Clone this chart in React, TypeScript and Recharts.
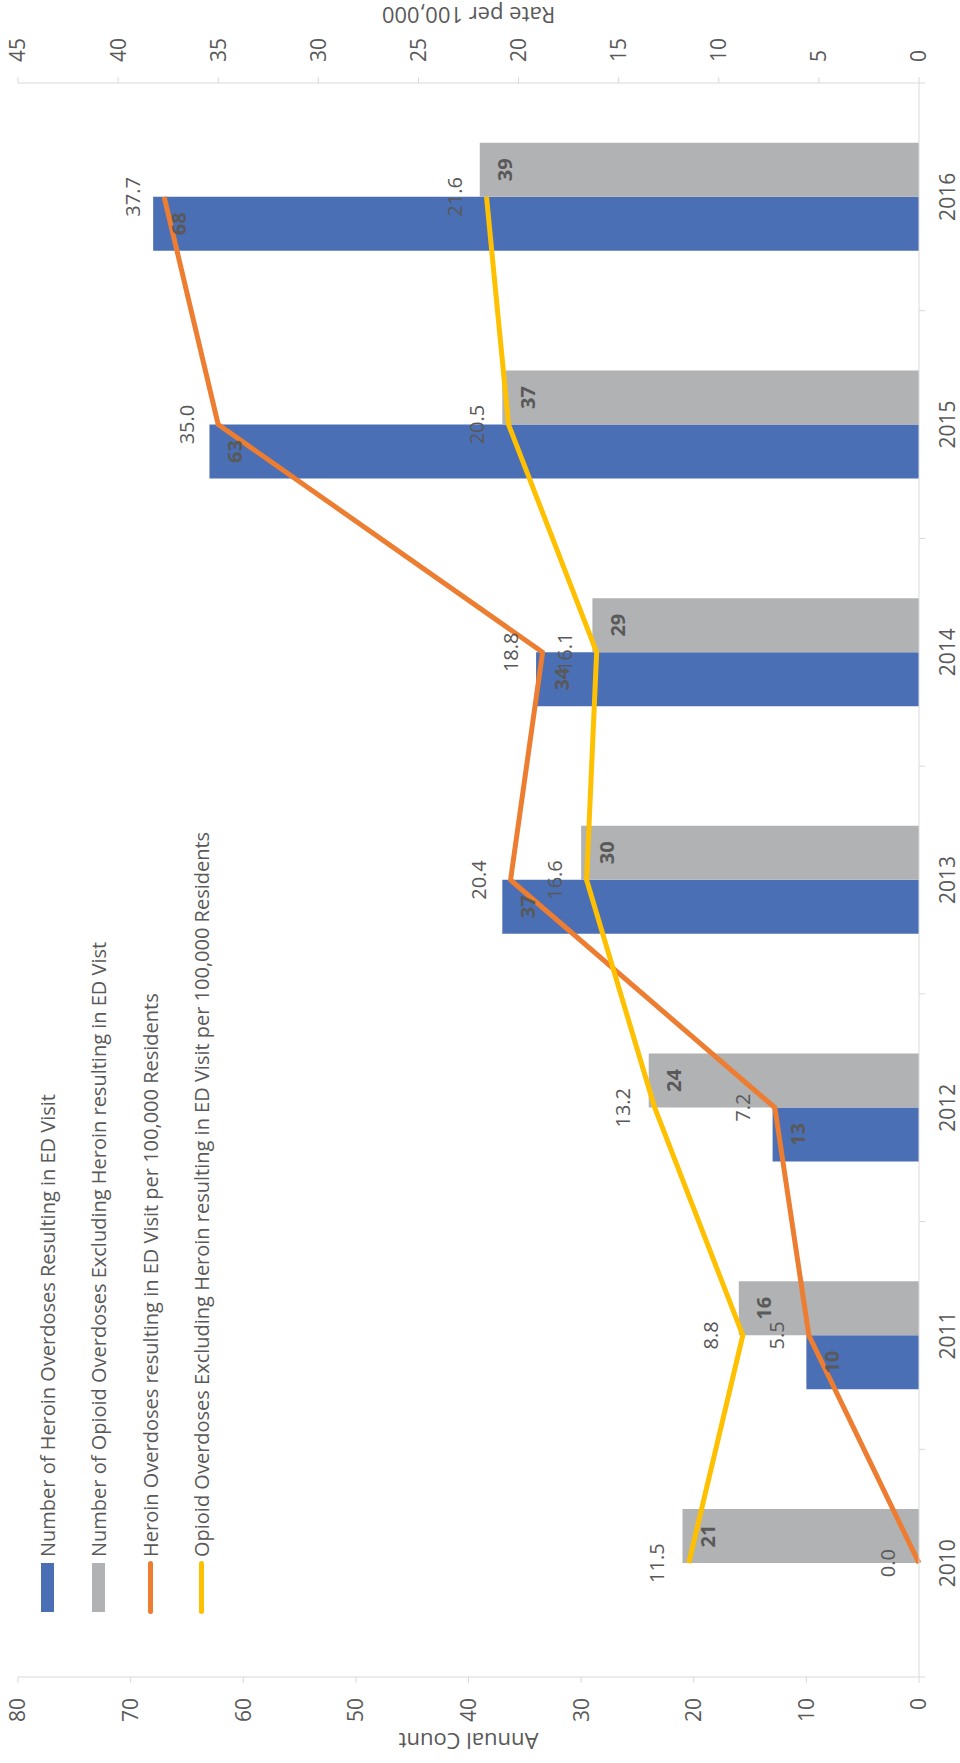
import React from 'react';
import { ComposedChart, Bar, Line, XAxis, YAxis, LabelList, Label } from 'recharts';

const YEARS = ['2010', '2011', '2012', '2013', '2014', '2015', '2016'];
const HEROIN_COUNT = [null, 10, 13, 37, 34, 63, 68];
const OPIOID_COUNT = [21, 16, 24, 30, 29, 37, 39];
const HEROIN_RATE = [0.0, 5.5, 7.2, 20.4, 18.8, 35.0, 37.7];
const OPIOID_RATE = [11.5, 8.8, 13.2, 16.6, 16.1, 20.5, 21.6];
const COUNT_TICKS = [0, 10, 20, 30, 40, 50, 60, 70, 80];
const RATE_TICKS = [0, 5, 10, 15, 20, 25, 30, 35, 40, 45];

const SERIES = [
  { key: 'heroinCount', name: 'Number of Heroin Overdoses Resulting in ED Visit', color: '#4a6fb5', kind: 'bar' },
  { key: 'opioidCount', name: 'Number of Opioid Overdoses Excluding Heroin resulting in ED Vist', color: '#b1b2b4', kind: 'bar' },
  { key: 'heroinRate', name: 'Heroin Overdoses resulting in ED Visit per 100,000 Residents', color: '#ed7d31', kind: 'line' },
  { key: 'opioidRate', name: 'Opioid Overdoses Excluding Heroin resulting in ED Visit per 100,000 Residents', color: '#ffc000', kind: 'line' },
];

const data = YEARS.map((year, i) => ({
  year,
  heroinCount: HEROIN_COUNT[i],
  opioidCount: OPIOID_COUNT[i],
  heroinRate: HEROIN_RATE[i],
  opioidRate: OPIOID_RATE[i],
}));

// chart is drawn landscape then turned a quarter turn counter-clockwise
const W = 1763;
const H = 960;
const PLOT_LEFT = 86;
const PLOT_RIGHT = 1680;
const PLOT_TOP = 18;
const PLOT_BOTTOM = 919;
const FONT = '"Open Sans", sans-serif';
const TEXT = '#595959';
const AXIS = '#d9d9d9';

function CategoryTick({ x, payload }: any) {
  const band = (PLOT_RIGHT - PLOT_LEFT) / YEARS.length;
  const last = payload.value === YEARS[YEARS.length - 1];
  return (
    <g>
      <line x1={x - band / 2} x2={x - band / 2} y1={PLOT_BOTTOM} y2={PLOT_BOTTOM + 6} stroke={AXIS} />
      {last && <line x1={x + band / 2} x2={x + band / 2} y1={PLOT_BOTTOM} y2={PLOT_BOTTOM + 6} stroke={AXIS} />}
      <text x={x} y={PLOT_BOTTOM + 21} dy="0.71em" textAnchor="middle" fill={TEXT} fontSize={21} fontFamily={FONT}>
        {payload.value}
      </text>
    </g>
  );
}

const barLabel = ({ x, y, width, value }: any) => {
  if (value == null) return null;
  return (
    <text x={x + width / 2} y={y + 25} textAnchor="middle" dominantBaseline="central" fill={TEXT} fontSize={20} fontWeight={700} fontFamily={FONT}>
      {value}
    </text>
  );
};

const lineLabel = ({ x, y, value }: any) => (
  <text x={x} y={y - 32} textAnchor="middle" dominantBaseline="central" fill={TEXT} fontSize={20} fontFamily={FONT}>
    {Number(value).toFixed(1)}
  </text>
);

const axisTitle = (text: string, cx: number) => () => {
  const cy = (PLOT_TOP + PLOT_BOTTOM) / 2;
  return (
    <text x={cx} y={cy} transform={`rotate(-90 ${cx} ${cy})`} textAnchor="middle" dominantBaseline="central" fill={TEXT} fontSize={22} fontFamily={FONT}>
      {text}
    </text>
  );
};

function LegendBox() {
  return (
    <div style={{ position: 'absolute', left: 149, top: 22, fontFamily: FONT, fontSize: 20, color: TEXT }}>
      {SERIES.map((s) => (
        <div key={s.key} style={{ display: 'flex', alignItems: 'center', height: 51.3, whiteSpace: 'nowrap' }}>
          <div style={{ width: 53, display: 'flex', justifyContent: 'center' }}>
            {s.kind === 'bar' ? (
              <div style={{ width: 49, height: 13, background: s.color }} />
            ) : (
              <div style={{ width: 53, height: 5, borderRadius: 2.5, background: s.color }} />
            )}
          </div>
          <span style={{ marginLeft: 4 }}>{s.name}</span>
        </div>
      ))}
    </div>
  );
}

export default function App() {
  return (
    <div style={{ position: 'absolute', left: 0, top: 0, width: H, height: W, overflow: 'hidden', background: '#fff' }}>
      <div
        style={{
          position: 'absolute',
          left: 0,
          top: 0,
          width: W,
          height: H,
          transformOrigin: '0 0',
          transform: `translateY(${W}px) rotate(-90deg)`,
        }}
      >
        <ComposedChart width={W} height={H} data={data} margin={{ top: PLOT_TOP, right: 0, bottom: 0, left: 0 }} barGap={0}>
          <XAxis
            dataKey="year"
            height={H - PLOT_BOTTOM}
            interval={0}
            tickLine={false}
            axisLine={{ stroke: AXIS }}
            tick={<CategoryTick />}
          />
          <YAxis
            yAxisId="left"
            width={PLOT_LEFT}
            domain={[0, 80]}
            ticks={COUNT_TICKS}
            tickSize={6}
            tickMargin={15}
            axisLine={{ stroke: AXIS }}
            tickLine={{ stroke: AXIS }}
            tick={{ fill: TEXT, fontSize: 21, fontFamily: FONT }}
          >
            <Label content={axisTitle('Annual Count', 21)} />
          </YAxis>
          <YAxis
            yAxisId="right"
            orientation="right"
            width={W - PLOT_RIGHT}
            domain={[0, 45]}
            ticks={RATE_TICKS}
            tickSize={6}
            tickMargin={15}
            axisLine={{ stroke: AXIS }}
            tickLine={{ stroke: AXIS }}
            tick={{ fill: TEXT, fontSize: 21, fontFamily: FONT }}
          >
            <Label content={axisTitle('Rate per 100,000', 1747)} />
          </YAxis>
          <Bar yAxisId="left" dataKey="heroinCount" fill={SERIES[0].color} barSize={54} isAnimationActive={false}>
            <LabelList dataKey="heroinCount" content={barLabel} />
          </Bar>
          <Bar yAxisId="left" dataKey="opioidCount" fill={SERIES[1].color} barSize={54} isAnimationActive={false}>
            <LabelList dataKey="opioidCount" content={barLabel} />
          </Bar>
          <Line
            yAxisId="right"
            dataKey="heroinRate"
            type="linear"
            stroke={SERIES[2].color}
            strokeWidth={5}
            strokeLinejoin="round"
            dot={false}
            isAnimationActive={false}
          >
            <LabelList dataKey="heroinRate" content={lineLabel} />
          </Line>
          <Line
            yAxisId="right"
            dataKey="opioidRate"
            type="linear"
            stroke={SERIES[3].color}
            strokeWidth={5}
            strokeLinejoin="round"
            dot={false}
            isAnimationActive={false}
          >
            <LabelList dataKey="opioidRate" content={lineLabel} />
          </Line>
        </ComposedChart>
        <LegendBox />
      </div>
    </div>
  );
}
